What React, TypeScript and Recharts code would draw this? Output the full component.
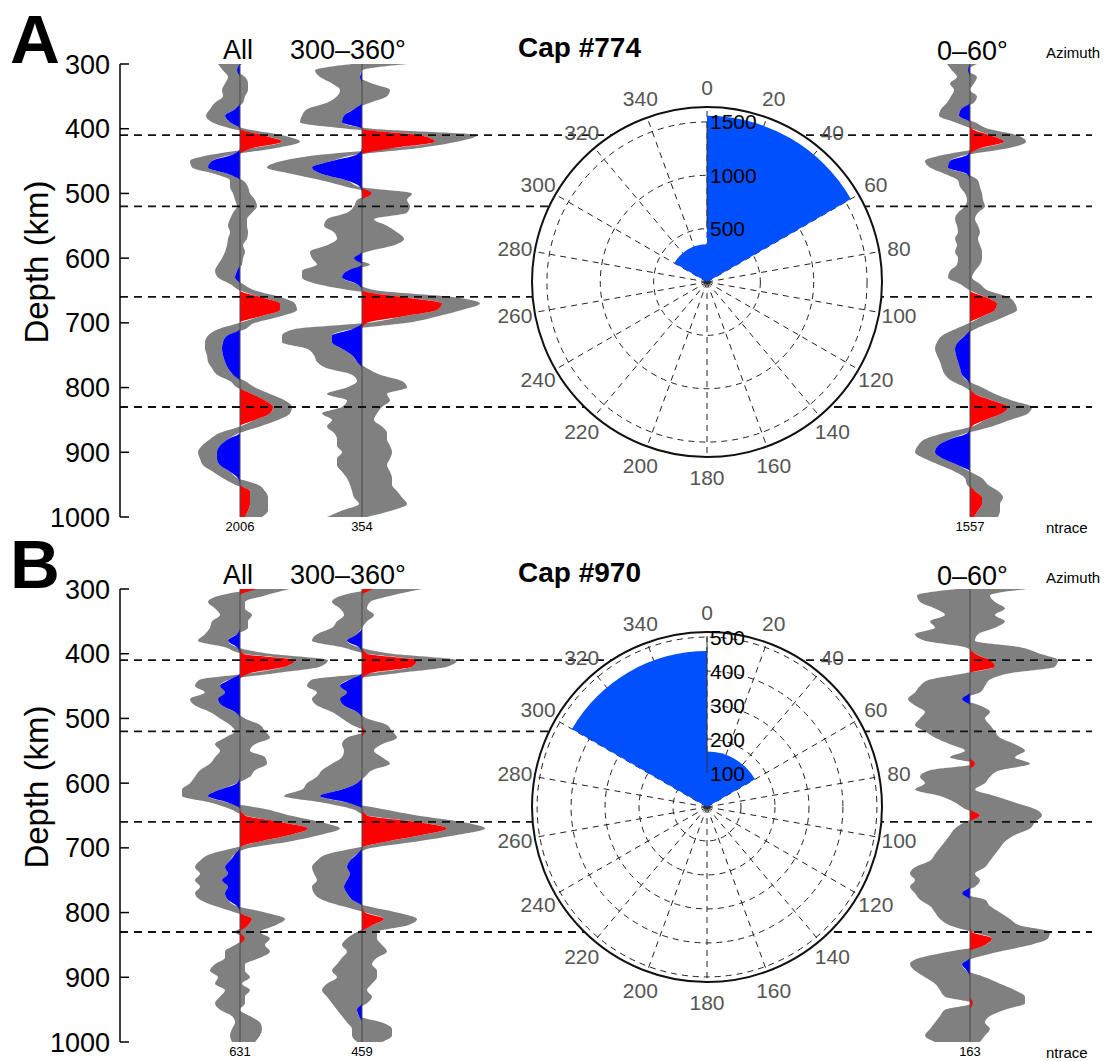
import {
  Area,
  ComposedChart,
  PolarAngleAxis,
  PolarGrid,
  PolarRadiusAxis,
  RadarChart,
  RadialBar,
  RadialBarChart,
  ReferenceLine,
  XAxis,
  YAxis,
} from "recharts";

const FONT = '"Liberation Sans", Arial, Helvetica, sans-serif';
const GREY = "#808080";
const POS = "#ff0000";
const NEG = "#0000ff";
const ROSE_FILL = "#0050ff";

// depth samples (km) shared by every stacked trace
const DEPTHS = [
  300, 310, 320, 330, 340, 350, 360, 370, 380, 390,
  400, 410, 420, 430, 440, 450, 460, 470, 480, 490,
  500, 510, 520, 530, 540, 550, 560, 570, 580, 590,
  600, 610, 620, 630, 640, 650, 660, 670, 680, 690,
  700, 710, 720, 730, 740, 750, 760, 770, 780, 790,
  800, 810, 820, 830, 840, 850, 860, 870, 880, 890,
  900, 910, 920, 930, 940, 950, 960, 970, 980, 990,
  1000,
];
const DEPTH_TICKS = [300, 400, 500, 600, 700, 800, 900, 1000];
const DISCONTINUITIES = [410, 520, 660, 830];

const TRACES = ["all", "west", "east"];
// back-azimuth bins of the rose, listed from the north-west bin round clockwise
const AZ_BINS = ["300–360", "0–60", "60–120", "120–180", "180–240", "240–300"];
const AZIMUTH_TICKS = [0, 20, 40, 60, 80, 100, 120, 140, 160, 180, 200, 220, 240, 260, 280, 300, 320, 340];

// bootstrap bounds of the stacked amplitude (x100), cap #774
const A_ALL_LO = [
  -22, -17, -12, -15, -18, -17, -25, -30, -34, -28,
  -8, 23, 42, 12, -28, -50, -48, -25, -10, -10,
  -7, -5, -3, -7, -10, -12, -10, -12, -13, -15,
  -18, -22, -25, -22, -10, 0, 20, 40, 40, 20,
  0, -22, -32, -35, -35, -33, -32, -28, -23, -10,
  -3, 12, 25, 33, 30, 15, 0, -20, -30, -38,
  -42, -40, -37, -27, -17, -5, 10, 10, 10, 8,
  5,
];
const A_ALL_HI = [
  2, -3, 5, 8, 8, 5, 3, -5, -15, -10,
  5, 42, 60, 35, -7, -28, -32, -12, 3, 8,
  10, 15, 17, 12, 7, 7, 8, 7, 3, 5,
  3, 2, -3, -5, 3, 15, 40, 55, 57, 40,
  15, 5, -13, -17, -18, -17, -15, -12, -7, 5,
  15, 30, 45, 52, 50, 38, 20, 0, -12, -20,
  -23, -23, -20, -10, -2, 18, 25, 28, 28, 28,
  22,
];
const A_WEST_LO = [
  -10, -47, -42, -30, -22, -25, -35, -55, -60, -62,
  -15, 58, 73, 30, -40, -80, -95, -70, -40, -15,
  10, -5, -8, -15, -35, -38, -28, -25, -35, -52,
  -50, -45, -60, -60, -45, -10, 40, 80, 75, 40,
  5, -68, -80, -80, -55, -48, -45, -35, -10, -5,
  -15, -35, -15, -20, -40, -30, -35, -28, -25, -25,
  -20, -25, -25, -20, -15, -12, -10, -8, -3, -20,
  -35,
];
const A_WEST_HI = [
  45, 0, -2, 10, 28, 25, 8, -8, -18, -20,
  10, 115, 95, 55, -5, -30, -50, -40, -15, -2,
  50, 45, 48, 45, 12, 25, 35, 42, 32, 5,
  -8, 8, -15, -20, -5, 15, 90, 118, 100, 75,
  45, -10, -30, -30, -20, -10, -5, 5, 18, 40,
  45, 25, 28, 20, 15, 12, 20, 25, 25, 28,
  30, 28, 25, 28, 30, 30, 35, 40, 45, 30,
  5,
];
const A_EAST_LO = [
  -23, -18, -13, -20, -16, -19, -23, -29, -31, -15,
  2, 20, 34, 10, -25, -45, -40, -25, -12, -10,
  -5, -3, -5, -12, -15, -13, -12, -15, -13, -15,
  -12, -13, -20, -22, -10, 0, 15, 27, 25, 12,
  0, -15, -28, -33, -35, -33, -30, -28, -25, -18,
  -5, 5, 22, 38, 32, 15, 2, -25, -45, -52,
  -55, -45, -30, -15, -5, -3, 5, 12, 12, 8,
  4,
];
const A_EAST_HI = [
  7, -2, 7, 4, 0, 7, 4, -9, -11, 5,
  18, 47, 56, 38, -2, -20, -22, -3, 8, 10,
  12, 13, 15, 8, 5, 8, 10, 8, 10, 12,
  12, 10, 5, 2, 10, 18, 38, 45, 47, 35,
  20, 5, -5, -12, -15, -14, -12, -10, -8, -2,
  12, 25, 42, 62, 58, 40, 22, -2, -20, -32,
  -35, -27, -12, 0, 12, 18, 28, 33, 30, 30,
  28,
];

// cap #970
const B_ALL_LO = [
  18, -20, -32, -25, -20, -28, -30, -35, -42, -15,
  3, 55, 45, 10, -40, -45, -35, -50, -45, -30,
  -20, -10, -5, -15, -25, -20, -25, -30, -40, -45,
  -50, -58, -58, -30, -10, 5, 40, 68, 50, 20,
  -5, -30, -40, -45, -40, -45, -40, -45, -40, -25,
  -5, 12, 8, -5, 5, -5, -15, -15, -25, -30,
  -22, -25, -15, -20, -25, -20, -8, -5, -8, -10,
  -8,
];
const B_ALL_HI = [
  50, 25, 5, 5, 12, 8, 8, -3, -12, -3,
  30, 88, 80, 35, -10, -20, -15, -22, -18, -5,
  5, 20, 25, 30, 15, 10, 25, 27, 15, 10,
  -3, -20, -32, -12, 25, 50, 80, 100, 80, 50,
  10, -5, -10, -15, -12, -18, -12, -15, -12, -3,
  25, 45, 35, 20, 30, 25, 30, 20, 5, 5,
  10, 2, 10, 5, 5, 0, 10, 20, 22, 20,
  15,
];
const B_WEST_LO = [
  12, -20, -30, -22, -18, -25, -30, -45, -50, -20,
  5, 55, 50, 8, -50, -55, -45, -50, -45, -30,
  -20, -10, 3, -15, -20, -18, -20, -30, -40, -45,
  -55, -60, -78, -40, -10, 5, 55, 85, 60, 25,
  -5, -35, -45, -50, -48, -45, -50, -48, -40, -20,
  3, 22, 10, -5, -15, -20, -15, -20, -25, -30,
  -25, -35, -40, -35, -30, -25, -20, -15, -10, -10,
  -5,
];
const B_WEST_HI = [
  60, 30, 8, 5, 12, 5, 0, -5, -15, -3,
  30, 95, 85, 35, -12, -22, -15, -22, -18, -5,
  5, 25, 30, 35, 20, 12, 20, 28, 10, 3,
  -5, -20, -42, -15, 20, 55, 100, 123, 95, 55,
  10, -5, -12, -15, -12, -15, -18, -15, -10, 5,
  35, 55, 45, 15, 15, 20, 25, 15, 10, 15,
  15, 10, 5, 10, 5, -5, -3, 20, 30, 30,
  20,
];
const B_EAST_LO = [
  -13, -53, -50, -35, -25, -40, -35, -55, -45, -5,
  5, 20, 25, -5, -40, -50, -55, -62, -55, -45,
  -50, -55, -45, -35, -20, -5, -20, 5, -40, -50,
  -45, -55, -30, -15, -5, 10, -5, -15, -20, -25,
  -30, -35, -40, -55, -60, -55, -60, -55, -50, -40,
  -35, -30, -20, 2, 22, 15, -20, -50, -60, -55,
  -45, -35, -30, -25, 3, -25, -30, -35, -40, -45,
  -35,
];
const B_EAST_HI = [
  57, 20, 25, 35, 25, 35, 25, 8, 5, 50,
  70, 88, 85, 40, 20, 15, 10, -8, 10, 20,
  15, 20, 25, 30, 45, 55, 45, 60, 30, 20,
  15, 5, 25, 45, 65, 72, 65, 60, 45, 35,
  30, 25, 20, 15, 5, 10, 5, -8, 15, 20,
  30, 40, 50, 80, 78, 60, 30, 5, -8, -3,
  15, 30, 45, 55, 55, 35, 20, 15, 20, 15,
  10,
];

// number of traces per stack: all, 300–360°, 0–60°
const A_NTRACE = [2006, 354, 1557];
const B_NTRACE = [631, 459, 163];

const A_RADIUS_TICKS = [500, 1000, 1500];
const B_RADIUS_TICKS = [100, 200, 300, 400, 500];

// layout
const W = 1104;
const PANEL_H = 545;
const PLOT_LEFT = 120;
const PLOT_RIGHT = 1092;
const PLOT_TOP = 64;
const PLOT_BOTTOM = 517;
const COLUMN_ZERO = [240, 362, 970];
const ROSE_X = 707;
const ROSE_Y = 282;
const ROSE_R = 175;
const ROSE_BOX = 440;
const AZ_LABEL_R = 195;
const RAD = Math.PI / 180;

function buildRows(lo: number[][], hi: number[][]) {
  return DEPTHS.map((depth, i) => {
    const row: Record<string, number | number[]> = { depth };
    TRACES.forEach((key, k) => {
      const l = lo[k][i];
      const h = hi[k][i];
      row[`${key}Band`] = [l, h];
      row[`${key}Pos`] = [0, Math.max(l, 0)];
      row[`${key}Neg`] = [Math.min(h, 0), 0];
    });
    return row;
  });
}

function columnDomain(k: number): [number, number] {
  const left = COLUMN_ZERO[k] - PLOT_LEFT;
  return [-left, PLOT_RIGHT - PLOT_LEFT - left];
}

// azimuth labels centred on a ring just outside the frame
function AzimuthTick(props: any) {
  const cx = props.cx ?? ROSE_BOX / 2;
  const cy = props.cy ?? ROSE_BOX / 2;
  const a = props.payload.coordinate * RAD;
  return (
    <text
      x={cx + AZ_LABEL_R * Math.cos(a)}
      y={cy - AZ_LABEL_R * Math.sin(a)}
      textAnchor="middle"
      dominantBaseline="central"
      fontSize={21}
      fill="#555"
    >
      {props.payload.value}
    </text>
  );
}

function RadiusTick(props: any) {
  return (
    <text x={props.x + 3} y={props.y} dominantBaseline="central" fontSize={21} fill="#000">
      {props.payload.value}
    </text>
  );
}

const polarFrame = {
  width: ROSE_BOX,
  height: ROSE_BOX,
  cx: ROSE_BOX / 2,
  cy: ROSE_BOX / 2,
  innerRadius: 0,
  outerRadius: ROSE_R,
  startAngle: 90,
  endAngle: -270,
  margin: { top: 0, right: 0, bottom: 0, left: 0 },
};

// dashed polar grid, azimuth labels and the outer ring
function RoseGrid({ rmax, rticks }: { rmax: number; rticks: number[] }) {
  const data = AZIMUTH_TICKS.map((az) => ({ az }));
  return (
    <RadarChart {...polarFrame} data={data}>
      <PolarGrid gridType="circle" stroke="#222" strokeDasharray="6 5" />
      <PolarAngleAxis
        dataKey="az"
        tickSize={20}
        tickLine={false}
        axisLineType="circle"
        axisLine={{ stroke: "#111", strokeWidth: 2 }}
        tick={AzimuthTick}
      />
      <PolarRadiusAxis
        angle={90}
        type="number"
        domain={[0, rmax]}
        ticks={rticks}
        allowDataOverflow
        tick={false}
        axisLine={false}
        tickLine={false}
      />
    </RadarChart>
  );
}

// trace counts per back-azimuth bin
function RoseBars({ counts, rmax, rticks }: { counts: number[]; rmax: number; rticks: number[] }) {
  const data = AZ_BINS.map((bin, i) => ({ bin, count: counts[i] }));
  return (
    <RadialBarChart {...polarFrame} layout="centric" data={data} barCategoryGap={0} barGap={0}>
      <PolarAngleAxis type="category" dataKey="bin" tick={false} tickLine={false} axisLine={false} />
      <PolarRadiusAxis
        angle={90}
        type="number"
        domain={[0, rmax]}
        ticks={rticks}
        allowDataOverflow
        tick={RadiusTick}
        tickLine={false}
        axisLine={{ stroke: "#333", strokeWidth: 1 }}
      />
      <RadialBar dataKey="count" fill={ROSE_FILL} isAnimationActive={false} />
    </RadialBarChart>
  );
}

type PanelProps = {
  top: number;
  letter: string;
  cap: string;
  lo: number[][];
  hi: number[][];
  ntrace: number[];
  rmax: number;
  rticks: number[];
};

function Panel({ top, letter, cap, lo, hi, ntrace, rmax, rticks }: PanelProps) {
  const rows = buildRows(lo, hi);
  const rose = [ntrace[1], ntrace[2], 0, 0, 0, 0];
  const roseBox = { position: "absolute" as const, left: ROSE_X - ROSE_BOX / 2, top: ROSE_Y - ROSE_BOX / 2 };
  return (
    <div style={{ position: "absolute", left: 0, top, width: W, height: PANEL_H }}>
      <ComposedChart
        width={W}
        height={PANEL_H}
        layout="vertical"
        data={rows}
        margin={{ top: PLOT_TOP, right: W - PLOT_RIGHT, bottom: PANEL_H - PLOT_BOTTOM, left: 0 }}
      >
        <YAxis
          type="number"
          dataKey="depth"
          domain={[300, 1000]}
          ticks={DEPTH_TICKS}
          interval={0}
          width={PLOT_LEFT}
          tickSize={-9}
          tickMargin={19}
          tick={{ fontSize: 27, fill: "#000" }}
          axisLine={{ stroke: "#000", strokeWidth: 1.5 }}
          tickLine={{ stroke: "#000", strokeWidth: 1.5 }}
        />
        {TRACES.map((key, k) => (
          <XAxis key={`x-${key}`} xAxisId={key} type="number" domain={columnDomain(k)} allowDataOverflow hide />
        ))}
        {TRACES.flatMap((key) => [
          <Area
            key={`${key}-band`}
            xAxisId={key}
            dataKey={`${key}Band`}
            type="monotone"
            fill={GREY}
            fillOpacity={1}
            stroke="none"
            isAnimationActive={false}
          />,
          <Area
            key={`${key}-pos`}
            xAxisId={key}
            dataKey={`${key}Pos`}
            type="monotone"
            fill={POS}
            fillOpacity={1}
            stroke="none"
            isAnimationActive={false}
          />,
          <Area
            key={`${key}-neg`}
            xAxisId={key}
            dataKey={`${key}Neg`}
            type="monotone"
            fill={NEG}
            fillOpacity={1}
            stroke="none"
            isAnimationActive={false}
          />,
        ])}
        {TRACES.map((key) => (
          <ReferenceLine key={`zero-${key}`} xAxisId={key} x={0} stroke="#4a4a4a" strokeWidth={1} />
        ))}
        {DISCONTINUITIES.map((d) => (
          <ReferenceLine key={`d-${d}`} xAxisId="all" y={d} stroke="#111" strokeWidth={1.8} strokeDasharray="8 6" />
        ))}
      </ComposedChart>

      <div
        style={{
          position: "absolute",
          left: ROSE_X - ROSE_R,
          top: ROSE_Y - ROSE_R,
          width: ROSE_R * 2,
          height: ROSE_R * 2,
          borderRadius: "50%",
          background: "#fff",
        }}
      />
      <div style={roseBox}>
        <RoseGrid rmax={rmax} rticks={rticks} />
      </div>
      <div style={roseBox}>
        <RoseBars counts={rose} rmax={rmax} rticks={rticks} />
      </div>

      <svg width={W} height={PANEL_H} style={{ position: "absolute", left: 0, top: 0, pointerEvents: "none" }}>
        <text x={10} y={63} fontSize={69} fontWeight="bold">
          {letter}
        </text>
        <text transform="translate(48, 262) rotate(-90)" textAnchor="middle" fontSize={33}>
          Depth (km)
        </text>
        <text x={238} y={59} textAnchor="middle" fontSize={27}>
          All
        </text>
        <text x={290} y={59} fontSize={27}>
          300–360°
        </text>
        <text x={937} y={60} fontSize={27}>
          0–60°
        </text>
        <text x={518} y={57} fontSize={28} fontWeight="bold">
          {cap}
        </text>
        <text x={1046} y={58} fontSize={15}>
          Azimuth
        </text>
        {ntrace.map((n, k) => (
          <text key={`n-${k}`} x={COLUMN_ZERO[k]} y={531} textAnchor="middle" fontSize={13}>
            {n}
          </text>
        ))}
        <text x={1046} y={533} fontSize={15}>
          ntrace
        </text>
      </svg>
    </div>
  );
}

export default function App() {
  return (
    <div
      style={{
        position: "absolute",
        left: 0,
        top: 0,
        width: W,
        height: 1061,
        overflow: "hidden",
        background: "#fff",
        fontFamily: FONT,
      }}
    >
      <Panel
        top={0}
        letter="A"
        cap="Cap #774"
        lo={[A_ALL_LO, A_WEST_LO, A_EAST_LO]}
        hi={[A_ALL_HI, A_WEST_HI, A_EAST_HI]}
        ntrace={A_NTRACE}
        rmax={1640}
        rticks={A_RADIUS_TICKS}
      />
      <Panel
        top={525}
        letter="B"
        cap="Cap #970"
        lo={[B_ALL_LO, B_WEST_LO, B_EAST_LO]}
        hi={[B_ALL_HI, B_WEST_HI, B_EAST_HI]}
        ntrace={B_NTRACE}
        rmax={515}
        rticks={B_RADIUS_TICKS}
      />
    </div>
  );
}
